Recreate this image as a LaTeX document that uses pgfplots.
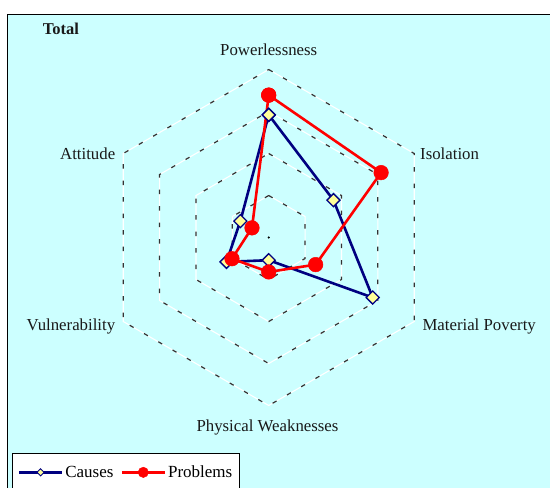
\documentclass[border=0pt]{standalone}
\usepackage{pgfplots}
\pgfplotsset{compat=1.18}
\usepackage{fontspec}
\setmainfont{Liberation Serif}
\definecolor{bgcyan}{RGB}{204,255,255}
\definecolor{navyc}{RGB}{0,0,128}
\definecolor{diafill}{RGB}{255,255,153}
\begin{document}
\begin{tikzpicture}[x=1pt,y=1pt]
\useasboundingbox (0,0) rectangle (550,488);
\fill[white] (0,0) rectangle (550,488);
\draw[black, line width=1.1pt, fill=bgcyan] (7.7,-10) rectangle (570,473.6);
\begin{axis}[
  at={(0pt,0pt)}, anchor=south west,
  x=4.2pt, y=4.2pt,
  xmin=-63.98, xmax=66.98, ymin=-59.64, ymax=56.55,
  hide axis, clip=false,
  legend columns=2,
  legend image code/.code={\draw[mark repeat=2,mark phase=2,#1] plot coordinates {(0pt,0pt)(21.5pt,0pt)(43pt,0pt)};},
  legend style={at={(0.0224,0.0711)}, anchor=north west, draw=black, line width=0.8pt, fill=white,
    font=\fontsize{17}{20}\selectfont, inner xsep=5pt, inner ysep=10pt,
    /tikz/every even column/.append style={column sep=5pt}},
]
\pgfplotsinvokeforeach{10,20,30,40}{
  \addplot[white, line width=1.1pt, forget plot, data cs=polar] coordinates {(90,#1) (30,#1) (-30,#1) (-90,#1) (-150,#1) (150,#1) (90,#1)};
  \addplot[black!80, line width=1.2pt, dash pattern=on 4.5pt off 12pt, forget plot, data cs=polar] coordinates {(90,#1) (30,#1) (-30,#1) (-90,#1) (-150,#1) (150,#1) (90,#1)};
}
\addplot[only marks, mark=*, mark size=0.9pt, black, forget plot] coordinates {(0,0)};
% Causes
\addplot[navyc, line width=2.6pt, mark=square*, mark size=4.6pt,
  mark options={rotate=45, fill=diafill, draw=navyc, line width=1.3pt, solid},
  forget plot, data cs=polar]
  coordinates {(90,29.2) (30,17.8) (-30,28.6) (-90,5.4) (-150,11.6) (150,7.8) (90,29.2)};
% Problems
\addplot[red, line width=2.6pt, mark=*, mark size=7.3pt,
  mark options={fill=red, draw=red, line width=0.5pt, solid},
  forget plot, data cs=polar]
  coordinates {(90,33.9) (30,30.9) (-30,12.9) (-90,8.2) (-150,10.1) (150,4.6) (90,33.9)};
\addlegendimage{navyc, line width=2.6pt, mark=square*, mark size=2.5pt, mark options={rotate=45, fill=diafill, draw=navyc, line width=0.9pt, solid}}
\addlegendentry{Causes}
\addlegendimage{red, line width=2.6pt, mark=*, mark size=5.2pt, mark options={fill=red, draw=red, line width=0.4pt, solid}}
\addlegendentry{Problems}
\end{axis}
\begin{scope}[every node/.style={inner sep=0pt, font=\fontsize{16.8}{20}\selectfont, text=black!90}]
\node[anchor=base west, font=\bfseries\fontsize{16.5}{20}\selectfont] at (42.7,453) {Total};
\node[anchor=base] at (268.7,432) {Powerlessness};
\node[anchor=base west] at (420,328.5) {Isolation};
\node[anchor=base east] at (115.4,328.5) {Attitude};
\node[anchor=base west] at (422.3,157.3) {Material Poverty};
\node[anchor=base east] at (115.4,157.3) {Vulnerability};
\node[anchor=base] at (267.5,56.3) {Physical Weaknesses};
\end{scope}
\end{tikzpicture}
\end{document}
